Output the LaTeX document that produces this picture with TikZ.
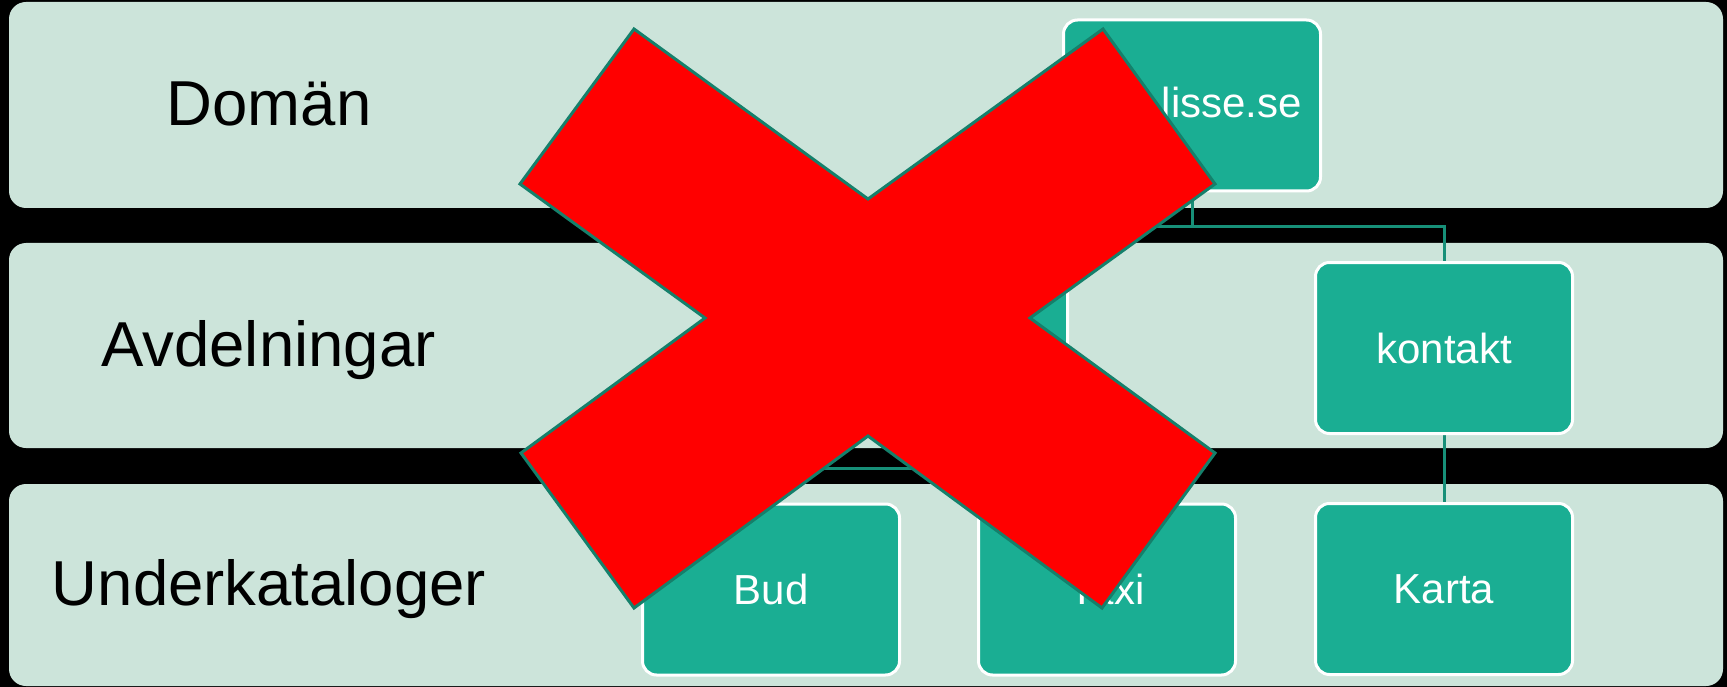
\documentclass[tikz,border=0pt]{standalone}
\usepackage{fontspec}
\setmainfont{Liberation Sans}
\definecolor{bandc}{HTML}{CCE4DA}
\definecolor{boxc}{HTML}{1AAE93}
\definecolor{connc}{HTML}{178F78}
\definecolor{xline}{HTML}{15806B}
\pgfdeclarelayer{bglayer}
\pgfdeclarelayer{connlayer}
\pgfsetlayers{bglayer,connlayer,main}
\begin{document}
\begin{tikzpicture}[x=1pt,y=-1pt,
  band/.style={fill=bandc,rounded corners=17pt},
  lvl/.style={font=\fontsize{63.5}{70}\selectfont,text=black,inner sep=0pt,anchor=base},
  boxn/.style={draw=white,line width=3pt,fill=boxc,rounded corners=14pt,
    minimum width=257pt,minimum height=171pt,inner sep=0pt,
    text=white,font=\fontsize{42}{48}\selectfont},
  conn/.style={draw=connc,line width=3pt},
  bigx/.style={fill=red,draw=xline,line width=3pt,line join=miter}]
\useasboundingbox (0,0) rectangle (1727,687);
\begin{pgfonlayer}{bglayer}
\fill[black] (0,0) rectangle (1727,687);
\fill[band] (9,2) rectangle (1723,208);
\fill[band] (9,243) rectangle (1723,448);
\fill[band] (9,484) rectangle (1723,686);
\end{pgfonlayer}
% level labels
\node[lvl] (ldom) at (269,126) {Domän};
\node[lvl] (lavd) at (268.5,366) {Avdelningar};
\node[lvl] (lund) at (269,605) {Underkataloger};
% boxes
\node[boxn] (lisse) at (1192,105.5) {};
\node[font=\fontsize{42}{48}\selectfont,text=white,inner sep=0pt,anchor=base east] (lissetext) at (1302,118) {lisse.se};
\node[boxn] (avd) at (939,348) {};
\node[boxn] (kontakt) at (1444,348) {kontakt};
\node[boxn] (bud) at (771,589.5) {Bud};
\node[boxn] (taxi) at (1107,589.5) {Taxi};
\node[boxn] (karta) at (1444,589) {Karta};
% connectors
\coordinate (j1) at (1192,227);
\coordinate (j2) at (939,468);
\begin{pgfonlayer}{connlayer}
\draw[conn] (lisse.south) -- (j1) -| (kontakt.north);
\draw[conn] (j1) -| (avd.north);
\draw[conn] (avd.south) -- (j2) -| (bud.north);
\draw[conn] (j2) -| (taxi.north);
\draw[conn] (kontakt.south) -- (karta.north);
\end{pgfonlayer}
% red cross
\draw[bigx] (634,29) -- (868,199) -- (1103,29) -- (1215,184) -- (1030,318)
  -- (1215,453) -- (1102,608) -- (868,436) -- (634,608) -- (521,453)
  -- (705,318) -- (520,184) -- cycle;
\end{tikzpicture}
\end{document}
